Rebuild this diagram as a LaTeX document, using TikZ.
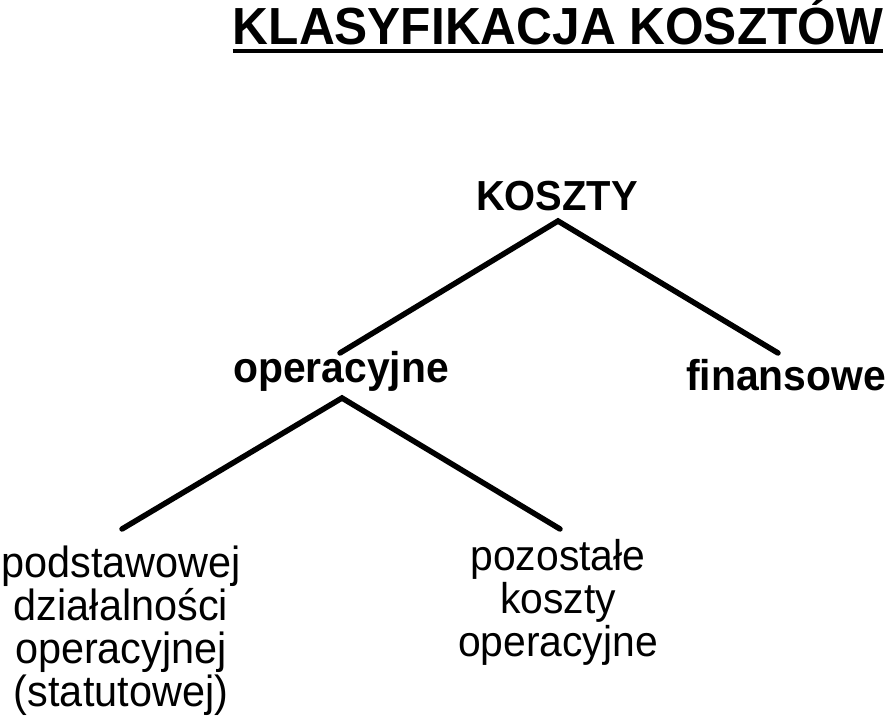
\documentclass[tikz,border=0pt]{standalone}
\usepackage{fontspec}
\setmainfont{Liberation Sans}[FakeStretch=0.95]
\begin{document}
\begin{tikzpicture}[x=1pt,y=-1pt,
  branch/.style={line width=5.5pt,line cap=round,line join=miter},
  lvl/.style={font=\bfseries\fontsize{43}{48}\selectfont,inner sep=0pt,anchor=base},
  leaf/.style={font=\fontsize{43.6}{43}\selectfont,inner sep=0pt,anchor=north,align=center}]
\useasboundingbox[fill=white] (0,0) rectangle (887,722);
% title
\node[font=\bfseries\fontsize{52.2}{58}\selectfont,inner sep=0pt,anchor=base] (title) at (558,45) {KLASYFIKACJA KOSZTÓW};
\draw[line width=3.5pt] (title.base west |- 0,51) coordinate (ulA) -- (title.base east |- 0,51) coordinate (ulB);
% nodes
\node[lvl,font=\bfseries\fontsize{42}{48}\selectfont] (koszty) at (557,211) {KOSZTY};
\node[lvl] (oper) at (341,382) {operacyjne};
\node[lvl] (fin) at (786,390) {finansowe};
\node[leaf] (podst) at (121,542) {\rule{0pt}{35pt}podstawowej\\działalności\\operacyjnej\\(statutowej)};
\node[leaf,font=\fontsize{43}{43}\selectfont] (pozost) at (558,535) {\rule{0pt}{35pt}pozostałe\\koszty\\operacyjne};
% connector coordinates
\coordinate (kTop) at (558,221);
\coordinate (kL) at (340,353);
\coordinate (kR) at (778,353);
\coordinate (oTop) at (342,398);
\coordinate (oL) at (122,529);
\coordinate (oR) at (560,529);
\draw[branch] (kL) -- (kTop) -- (kR);
\draw[branch] (oL) -- (oTop) -- (oR);
\end{tikzpicture}
\end{document}
